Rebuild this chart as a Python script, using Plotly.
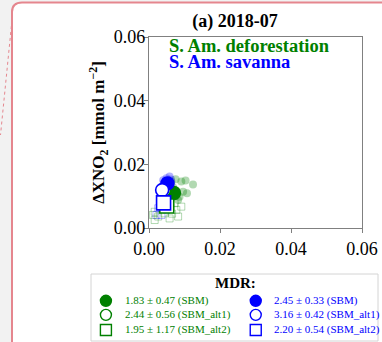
import plotly.graph_objects as go

W, H = 382, 342

# ---- data -------------------------------------------------------------
# individual samples (faint markers)
defor_pts_x = [0.0075, 0.0091, 0.0103, 0.0124, 0.0096, 0.0107, 0.0086, 0.0082, 0.0063, 0.0068, 0.0058]
defor_pts_y = [0.0153, 0.0146, 0.0149, 0.0137, 0.0114, 0.0109, 0.0098, 0.0088, 0.0146, 0.0128, 0.0120]
sav_pts_x = [0.0058, 0.0049, 0.0040, 0.0054, 0.0062]
sav_pts_y = [0.0162, 0.0156, 0.0150, 0.0146, 0.0152]
defor_alt2_x = [0.0016, 0.0016, 0.0026, 0.0044, 0.0077, 0.0091, 0.0082, 0.0058, 0.0011, 0.0072, 0.0065]
defor_alt2_y = [0.0051, 0.0025, 0.0036, 0.0046, 0.0057, 0.0067, 0.0036, 0.0030, 0.0041, 0.0078, 0.0045]
sav_alt2_x = [0.0021, 0.0035, 0.0026, 0.0049]
sav_alt2_y = [0.0041, 0.0041, 0.0062, 0.0057]

# regional means per method: SBM, SBM_alt1, SBM_alt2
methods = ["SBM", "SBM_alt1", "SBM_alt2"]
defor_mean_x = [0.0070, 0.0042, 0.0050]
defor_mean_y = [0.0110, 0.0118, 0.0069]
sav_mean_x = [0.0052, 0.0037, 0.0041]
sav_mean_y = [0.0140, 0.0119, 0.0079]

# MDR estimates (mean ± std)
defor_mdr = [1.83, 2.44, 1.95]
defor_mdr_sd = [0.47, 0.56, 1.17]
sav_mdr = [2.45, 3.16, 2.20]
sav_mdr_sd = [0.33, 0.42, 0.54]

x_ticks = [0.00, 0.02, 0.04, 0.06]
y_ticks = [0.00, 0.02, 0.04, 0.06]

GREEN = "#008000"
BLUE = "#0000ff"
SERIF = "Liberation Serif, Times New Roman, serif"


def px(x):
    return x / W


def py(y):
    return (H - y) / H


fig = go.Figure()

# faint sample markers
fig.add_trace(go.Scatter(x=defor_pts_x, y=defor_pts_y, mode="markers",
                         marker=dict(symbol="circle", size=8, color=GREEN, opacity=0.3,
                                     line=dict(width=0))))
fig.add_trace(go.Scatter(x=sav_pts_x, y=sav_pts_y, mode="markers",
                         marker=dict(symbol="circle", size=8, color=BLUE, opacity=0.3,
                                     line=dict(width=0))))
fig.add_trace(go.Scatter(x=defor_alt2_x, y=defor_alt2_y, mode="markers",
                         marker=dict(symbol="square-open", size=7, color=GREEN, opacity=0.3,
                                     line=dict(width=1))))
fig.add_trace(go.Scatter(x=sav_alt2_x, y=sav_alt2_y, mode="markers",
                         marker=dict(symbol="square-open", size=7, color=BLUE, opacity=0.3,
                                     line=dict(width=1))))

# regional means
symbols = ["circle", "circle", "square"]
for mx, my, col in [(defor_mean_x, defor_mean_y, GREEN), (sav_mean_x, sav_mean_y, BLUE)]:
    for i in range(3):
        fill = col if i == 0 else "white"
        fig.add_trace(go.Scatter(x=[mx[i]], y=[my[i]], mode="markers",
                                 marker=dict(symbol=symbols[i], size=13 if i < 2 else 14,
                                             color=fill, line=dict(color=col, width=1.6))))

# MDR key (hidden helper axes spanning the key box)
key_rows = [0.60, 0.39, 0.165]
for col_i, (vals, sds, col) in enumerate([(defor_mdr, defor_mdr_sd, GREEN), (sav_mdr, sav_mdr_sd, BLUE)]):
    xm = 0.052 + col_i * 0.522
    for i in range(3):
        fill = col if i == 0 else "white"
        fig.add_trace(go.Scatter(
            x=[xm], y=[key_rows[i]], mode="markers", xaxis="x2", yaxis="y2",
            marker=dict(symbol=symbols[i], size=11, color=fill, line=dict(color=col, width=1.4))))
        fig.add_annotation(
            text=f"{vals[i]:.2f} ± {sds[i]:.2f} ({methods[i]})", xref="x2", yref="y2",
            x=xm + 0.058, y=key_rows[i], showarrow=False, xanchor="left", yanchor="middle",
            font=dict(family=SERIF, size=11, color=col))

axis_common = dict(showline=True, linecolor="#808080", linewidth=1.2, mirror=True,
                   ticks="outside", ticklen=4, tickcolor="#808080", showgrid=False,
                   zeroline=False, automargin=False,
                   tickfont=dict(family=SERIF, size=18, color="black"))

fig.update_layout(
    width=W, height=H,
    margin=dict(l=0, r=0, t=0, b=0, autoexpand=False),
    paper_bgcolor="#f2f2f2",
    plot_bgcolor="white",
    showlegend=False,
    xaxis=dict(domain=[px(149), px(362)], range=[0, 0.06], tickvals=x_ticks,
               ticktext=[f"{v:.2f}" for v in x_ticks], **axis_common),
    yaxis=dict(domain=[py(228), py(37)], range=[0, 0.06], tickvals=y_ticks,
               ticktext=[f"{v:.2f}" for v in y_ticks], ticklabelstandoff=-5,
               title=dict(text="<b>ΔXNO<sub>2</sub> [mmol m<sup>−2</sup>]</b>",
                          font=dict(family=SERIF, size=17, color="black"), standoff=4),
               **axis_common),
    xaxis2=dict(domain=[px(91), px(378)], range=[0, 1], visible=False, fixedrange=True,
                automargin=False),
    yaxis2=dict(domain=[py(341), py(274)], range=[0, 1], visible=False, fixedrange=True,
                automargin=False),
    title=dict(text="<b>(a) 2018-07</b>", font=dict(family=SERIF, size=18, color="black"),
               x=px(235), xanchor="center", xref="container",
               y=py(21), yanchor="middle", yref="container", automargin=False),
)

# card background with rounded top-left corner
card = (f"M {px(12)},{py(360)} L {px(12)},{py(12)} Q {px(12)},{py(2.5)} {px(22)},{py(2.5)} "
        f"L {px(400)},{py(2.5)} L {px(400)},{py(360)} Z")
fig.add_shape(type="path", path=card, xref="paper", yref="paper", layer="below",
              fillcolor="white", line=dict(color="#e5868e", width=2))
fig.add_shape(type="line", xref="paper", yref="paper", x0=px(12), y0=py(20), x1=px(0.5), y1=py(135),
              line=dict(color="#e5868e", width=1, dash="dot"))

# MDR key box
fig.add_shape(type="rect", xref="paper", yref="paper", x0=px(91), x1=px(378), y0=py(341), y1=py(274),
              fillcolor="white", line=dict(color="#d4d4d4", width=1), layer="below")
fig.add_annotation(text="<b>MDR:</b>", xref="paper", yref="paper", x=px(235), y=py(283),
                   showarrow=False, xanchor="center", yanchor="middle",
                   font=dict(family=SERIF, size=15, color="black"))

# region labels
fig.add_annotation(text="<b>S. Am. deforestation</b>", xref="paper", yref="paper",
                   x=px(167), y=py(46.5), showarrow=False, xanchor="left", yanchor="middle",
                   font=dict(family=SERIF, size=18.5, color=GREEN))
fig.add_annotation(text="<b>S. Am. savanna</b>", xref="paper", yref="paper",
                   x=px(167), y=py(62), showarrow=False, xanchor="left", yanchor="middle",
                   font=dict(family=SERIF, size=18.5, color=BLUE))

fig.write_html("out.html")
